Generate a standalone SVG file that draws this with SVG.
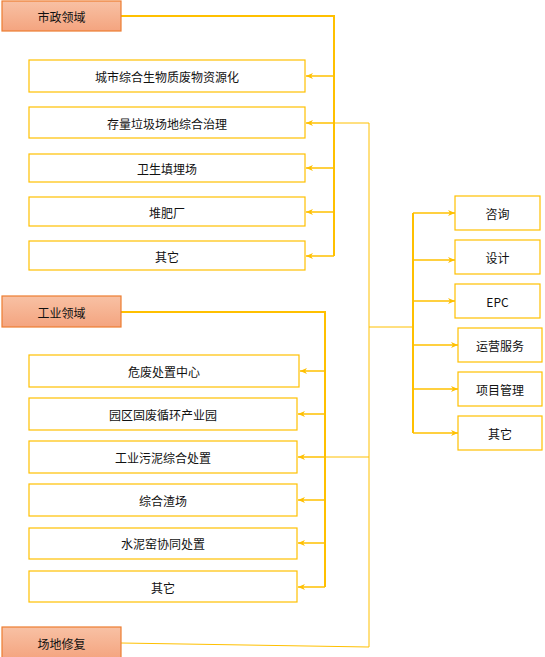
<svg xmlns="http://www.w3.org/2000/svg" width="545" height="657" viewBox="0 0 545 657">
<style>
.hdr{stroke:#ed7d31;stroke-width:1.2;fill:url(#hg)}
.box{fill:#fff;stroke:#ffc000;stroke-width:1.2}
.t{font-family:"Noto Sans CJK SC","Liberation Sans",sans-serif;font-size:12px;fill:#111;text-anchor:middle;dominant-baseline:central}
.trunk{fill:none;stroke:#ffc000;stroke-width:2}
.br{fill:none;stroke:#ffc000;stroke-width:1.5}
.thin{fill:none;stroke:#ffc000;stroke-width:1}
</style>
<defs>
<linearGradient id="hg" x1="0" y1="0" x2="0" y2="1">
<stop offset="0" stop-color="#f8c1a4"/>
<stop offset="1" stop-color="#f4a47f"/>
</linearGradient>
<marker id="ar" markerUnits="userSpaceOnUse" markerWidth="8" markerHeight="8" refX="7" refY="4" orient="auto">
<path d="M0,1 L7,4 L0,7 L2,4 Z" fill="#ffc000"/>
</marker>
</defs>
<g id="connectors">
<path class="trunk" d="M121,16 H334 V256"/>
<path class="br" d="M334,76 H306" marker-end="url(#ar)"/>
<path class="br" d="M334,123 H306" marker-end="url(#ar)"/>
<path class="br" d="M334,168 H306" marker-end="url(#ar)"/>
<path class="br" d="M334,212 H306" marker-end="url(#ar)"/>
<path class="br" d="M334,256 H306" marker-end="url(#ar)"/>
<path class="trunk" d="M121,312 H325 V587"/>
<path class="br" d="M325,371 H300" marker-end="url(#ar)"/>
<path class="br" d="M325,414 H298" marker-end="url(#ar)"/>
<path class="br" d="M325,457 H298" marker-end="url(#ar)"/>
<path class="br" d="M325,500 H298" marker-end="url(#ar)"/>
<path class="br" d="M325,543 H298" marker-end="url(#ar)"/>
<path class="br" d="M325,587 H298" marker-end="url(#ar)"/>
<path class="thin" d="M121,643 L369,647 V123 H334"/>
<path class="thin" d="M369,457 H325"/>
<path class="thin" d="M369,327 H413"/>
<path class="trunk" d="M413,213 V433"/>
<path class="br" d="M413,213 H455" marker-end="url(#ar)"/>
<path class="br" d="M413,260 H455" marker-end="url(#ar)"/>
<path class="br" d="M413,301 H455" marker-end="url(#ar)"/>
<path class="br" d="M413,345 H458" marker-end="url(#ar)"/>
<path class="br" d="M413,389 H458" marker-end="url(#ar)"/>
<path class="br" d="M413,433 H458" marker-end="url(#ar)"/>
</g>
<g id="n-shizheng"><rect class="hdr" x="2" y="1" width="119" height="30"/><text class="t" x="61.5" y="16">市政领域</text></g>
<g id="n-m1"><rect class="box" x="29" y="60" width="276" height="32"/><text class="t" x="167" y="76">城市综合生物质废物资源化</text></g>
<g id="n-m2"><rect class="box" x="29" y="107" width="276" height="31"/><text class="t" x="167" y="123">存量垃圾场地综合治理</text></g>
<g id="n-m3"><rect class="box" x="29" y="154" width="276" height="28"/><text class="t" x="167" y="168">卫生填埋场</text></g>
<g id="n-m4"><rect class="box" x="29" y="197" width="276" height="29"/><text class="t" x="167" y="212">堆肥厂</text></g>
<g id="n-m5"><rect class="box" x="29" y="241" width="276" height="29"/><text class="t" x="167" y="256">其它</text></g>
<g id="n-gongye"><rect class="hdr" x="2" y="296" width="119" height="31"/><text class="t" x="61.5" y="312">工业领域</text></g>
<g id="n-i1"><rect class="box" x="29" y="355" width="270" height="32"/><text class="t" x="164" y="371">危废处置中心</text></g>
<g id="n-i2"><rect class="box" x="29" y="398" width="268" height="32"/><text class="t" x="163" y="414">园区固废循环产业园</text></g>
<g id="n-i3"><rect class="box" x="29" y="441" width="268" height="32"/><text class="t" x="163" y="457">工业污泥综合处置</text></g>
<g id="n-i4"><rect class="box" x="29" y="484" width="268" height="32"/><text class="t" x="163" y="500">综合渣场</text></g>
<g id="n-i5"><rect class="box" x="29" y="528" width="268" height="31"/><text class="t" x="163" y="543">水泥窑协同处置</text></g>
<g id="n-i6"><rect class="box" x="29" y="571" width="268" height="31"/><text class="t" x="163" y="587">其它</text></g>
<g id="n-changdi"><rect class="hdr" x="2" y="627" width="119" height="32"/><text class="t" x="61.5" y="643">场地修复</text></g>
<g id="n-s1"><rect class="box" x="455" y="196" width="85" height="34"/><text class="t" x="497.5" y="213">咨询</text></g>
<g id="n-s2"><rect class="box" x="455" y="240" width="85" height="34"/><text class="t" x="497.5" y="257">设计</text></g>
<g id="n-s3"><rect class="box" x="455" y="284" width="85" height="34"/><text class="t" x="497.5" y="301">EPC</text></g>
<g id="n-s4"><rect class="box" x="458" y="328" width="84" height="34"/><text class="t" x="500" y="345">运营服务</text></g>
<g id="n-s5"><rect class="box" x="458" y="372" width="84" height="34"/><text class="t" x="500" y="389">项目管理</text></g>
<g id="n-s6"><rect class="box" x="458" y="416" width="84" height="34"/><text class="t" x="500" y="433">其它</text></g>
</svg>
